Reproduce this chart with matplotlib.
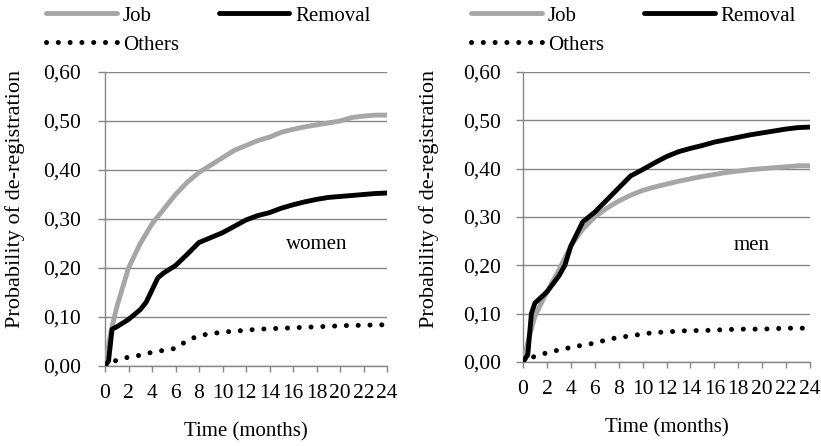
import matplotlib
matplotlib.use("Agg")
import matplotlib.pyplot as plt
from matplotlib.ticker import FuncFormatter

plt.rcParams['font.family'] = ['Liberation Serif', 'DejaVu Serif']

# ---- data ----
months_fine = [0, 0.5, 1, 2, 3, 4, 5, 6, 7, 8, 9, 10, 11, 12, 13, 14, 15, 16, 17, 18, 19, 20, 21, 22, 23, 24]
women_job = [0, 0.07, 0.12, 0.20, 0.25, 0.29, 0.32, 0.35, 0.375, 0.395, 0.41, 0.425, 0.44, 0.45, 0.46,
             0.467, 0.477, 0.483, 0.488, 0.492, 0.496, 0.50, 0.507, 0.51, 0.512, 0.512]

women_rem_x = [0, 0.3, 0.6, 1, 2, 3, 3.5, 4, 4.5, 5, 6, 7, 8, 9, 10, 11, 12, 13, 14, 15, 16, 17, 18, 19,
               20, 21, 22, 23, 24]
women_rem = [0, 0.01, 0.075, 0.08, 0.095, 0.115, 0.13, 0.155, 0.18, 0.19, 0.205, 0.228, 0.252, 0.262,
             0.272, 0.285, 0.298, 0.307, 0.313, 0.322, 0.329, 0.335, 0.34, 0.344, 0.346, 0.348, 0.35,
             0.352, 0.353]

months = list(range(25))
women_oth = [0, 0.012, 0.018, 0.022, 0.028, 0.032, 0.036, 0.052, 0.062, 0.066, 0.069, 0.071, 0.073,
             0.075, 0.076, 0.077, 0.078, 0.079, 0.080, 0.081, 0.082, 0.083, 0.083, 0.084, 0.084]

men_job = [0, 0.05, 0.095, 0.145, 0.19, 0.24, 0.275, 0.30, 0.318, 0.333, 0.345, 0.355, 0.362, 0.368,
           0.374, 0.379, 0.384, 0.388, 0.392, 0.395, 0.398, 0.40, 0.402, 0.404, 0.406, 0.406]

men_rem_x = [0, 0.4, 0.7, 1, 2, 3, 3.5, 4, 4.5, 5, 6, 7, 8, 9, 10, 11, 12, 13, 14, 15, 16, 17, 18, 19,
             20, 21, 22, 23, 24]
men_rem = [0, 0.015, 0.10, 0.122, 0.145, 0.178, 0.20, 0.24, 0.265, 0.29, 0.31, 0.335, 0.36, 0.385,
           0.398, 0.412, 0.425, 0.435, 0.442, 0.448, 0.455, 0.46, 0.465, 0.47, 0.474, 0.478, 0.482,
           0.485, 0.486]

men_oth = [0, 0.012, 0.019, 0.025, 0.030, 0.035, 0.039, 0.046, 0.051, 0.054, 0.058, 0.061, 0.062,
           0.064, 0.065, 0.065, 0.066, 0.067, 0.068, 0.068, 0.068, 0.069, 0.070, 0.070, 0.070]

yticks = [0.0, 0.1, 0.2, 0.3, 0.4, 0.5, 0.6]
xticks = list(range(0, 25, 2))

GRAY = '#A6A6A6'
AXC = '#868686'
FS = 15
TFS = 15.5

W, H = 821, 446
fig = plt.figure(figsize=(W / 100, H / 100), dpi=100)

def px_axes(x0, y0, x1, y1):
    return fig.add_axes([x0 / W, 1 - y1 / H, (x1 - x0) / W, (y1 - y0) / H])

panels = [
    (px_axes(105, 72, 387, 366), women_job, women_rem_x, women_rem, women_oth, 'women', 18.0, 0.247,
     (46, 6), (-0.284, 0.568), 12.5),
    (px_axes(523, 72, 810, 362), men_job, men_rem_x, men_rem, men_oth, 'men', 19.1, 0.242,
     (471, 6), (-0.293, 0.562), 11),
]

for ax, job, remx, rem, oth, label, tx, ty, legpos, ylc, ypad in panels:
    lj, = ax.plot(months_fine, job, color=GRAY, lw=3.5, solid_capstyle='round', label='Job', zorder=3)
    lr, = ax.plot(remx, rem, color='black', lw=3.5, solid_capstyle='round', label='Removal', zorder=4)
    lo, = ax.plot(months, oth, color='black', lw=3.6, linestyle=(0, (0.01, 2.35)),
                  dash_capstyle='round', label='Others', zorder=3)
    ax.set_xlim(0, 24)
    ax.set_ylim(0, 0.6)
    ax.set_yticks(yticks)
    ax.set_xticks(xticks)
    ax.yaxis.set_major_formatter(FuncFormatter(lambda v, p: f"{v:.2f}".replace('.', ',')))
    ax.grid(axis='y', color=AXC, lw=1.0)
    ax.set_axisbelow(True)
    for s in ['top', 'right']:
        ax.spines[s].set_visible(False)
    for s in ['left', 'bottom']:
        ax.spines[s].set_color(AXC)
        ax.spines[s].set_linewidth(1.0)
    ax.tick_params(axis='y', direction='out', length=5, width=1, color=AXC, labelsize=TFS, pad=ypad)
    ax.tick_params(axis='x', direction='out', length=4, width=1, color=AXC, labelsize=TFS, pad=9)
    ax.set_xlabel('Time (months)', fontsize=FS, labelpad=14)
    ax.set_ylabel('Probability of de-registration', fontsize=16)
    ax.yaxis.set_label_coords(*ylc)
    ax.text(tx, ty, label, fontsize=FS, ha='center', va='center')
    leg = fig.legend([lj, lo, lr], ['Job', 'Others', 'Removal'], ncol=2, frameon=False,
                     fontsize=FS, loc='upper left',
                     bbox_to_anchor=(legpos[0] / W, 1 - legpos[1] / H),
                     borderaxespad=0, borderpad=0, handlelength=3.4, handletextpad=0.3,
                     columnspacing=1.9, labelspacing=0.45)

fig.savefig('out.png', dpi=100)
